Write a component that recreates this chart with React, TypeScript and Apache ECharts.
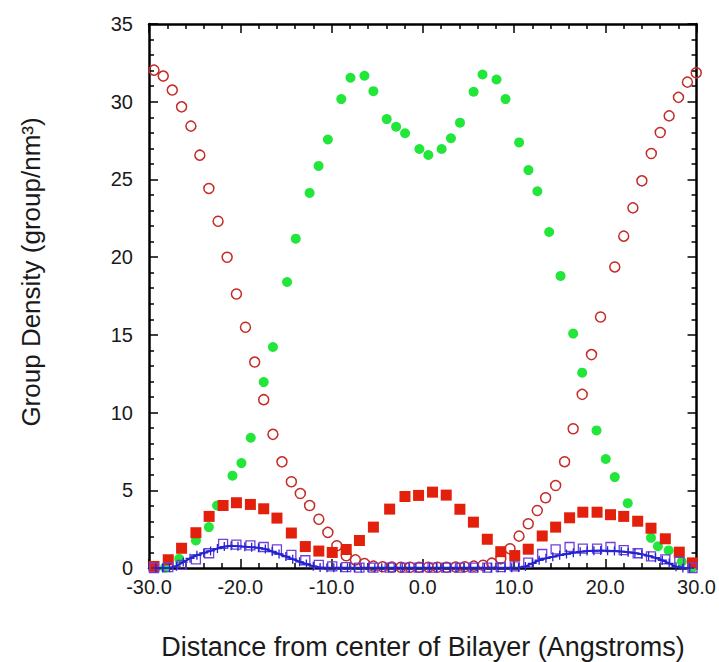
import React, { useEffect, useRef } from "react";
import * as echarts from "echarts";

// Filled green circles
const greenX = [-28.25, -26.69, -24.86, -23.44, -22.54, -20.85, -19.87, -18.85, -17.43, -16.42, -14.87, -13.92, -12.4, -11.42, -10.4, -8.93, -7.92, -6.39, -5.41, -3.95, -2.92, -1.94, -0.37, 0.61, 2.07, 3.09, 4.08, 5.57, 6.55, 8.08, 9.07, 10.56, 11.58, 12.56, 13.85, 15.1, 16.48, 17.47, 19.04, 20.05, 21.04, 22.46, 25.01, 25.77, 26.94, 28.39, 29.49];
const greenY = [0.02, 0.59, 1.77, 2.63, 4.02, 5.94, 6.75, 8.38, 11.96, 14.22, 18.4, 21.19, 24.13, 25.87, 27.57, 30.17, 31.54, 31.67, 30.68, 28.88, 28.39, 27.97, 26.96, 26.57, 26.96, 27.65, 28.65, 30.64, 31.75, 31.43, 30.17, 27.38, 25.6, 24.24, 21.62, 18.79, 15.08, 12.57, 8.85, 7.01, 5.85, 4.17, 1.94, 1.4, 1.13, 0.42, 0.01];

// Open red circles
const circleX = [-29.45, -28.44, -27.45, -26.43, -25.41, -24.43, -23.44, -22.43, -21.44, -20.42, -19.43, -18.42, -17.43, -16.42, -15.43, -14.4, -13.42, -12.4, -11.39, -10.4, -9.42, -8.39, -7.38, -6.39, -5.4, -4.4, -3.4, -2.4, -1.4, -0.4, 0.6, 1.6, 2.6, 3.6, 4.6, 5.6, 6.6, 7.56, 8.55, 9.56, 10.55, 11.56, 12.55, 13.46, 14.56, 15.54, 16.48, 17.47, 18.49, 19.48, 21.04, 22.02, 23.03, 24.01, 25.04, 26.02, 27.0, 28.02, 29.0, 29.97];
const circleY = [32.03, 31.65, 30.75, 29.67, 28.43, 26.56, 24.42, 22.31, 19.99, 17.63, 15.49, 13.25, 10.83, 8.6, 6.83, 5.55, 4.79, 4.02, 3.14, 2.29, 1.43, 0.79, 0.52, 0.29, 0.12, 0.08, 0.06, 0.05, 0.05, 0.05, 0.05, 0.05, 0.05, 0.06, 0.08, 0.12, 0.18, 0.31, 0.59, 1.24, 2.05, 2.85, 3.7, 4.52, 5.31, 6.84, 8.96, 11.17, 13.73, 16.15, 19.37, 21.35, 23.17, 24.91, 26.67, 28.02, 29.09, 30.28, 31.26, 31.86];

// Filled red squares and open purple squares share one grid
const squareX = [-29.45, -27.89, -26.43, -24.86, -23.41, -21.88, -20.42, -18.89, -17.43, -15.98, -14.4, -12.87, -11.39, -9.92, -8.39, -6.94, -5.41, -3.63, -1.95, -0.46, 1.07, 2.57, 4.07, 5.55, 7.07, 8.55, 10.08, 11.56, 13.09, 14.56, 16.09, 17.54, 19.1, 20.57, 22.02, 23.55, 25.01, 26.58, 28.11, 29.56];
const redSquareY = [0.1, 0.53, 1.27, 2.27, 3.32, 4.02, 4.2, 4.09, 3.81, 3.21, 2.25, 1.38, 1.09, 1.0, 1.19, 1.77, 2.63, 3.79, 4.6, 4.67, 4.88, 4.69, 3.78, 2.95, 1.85, 1.05, 0.8, 1.21, 2.06, 2.63, 3.23, 3.59, 3.59, 3.43, 3.32, 3.01, 2.56, 1.88, 1.02, 0.33];
const purpleSquareY = [0.0, 0.05, 0.2, 0.55, 0.95, 1.55, 1.5, 1.45, 1.35, 1.2, 0.85, 0.5, 0.2, 0.1, 0.05, 0.03, 0.03, 0.02, 0.03, 0.02, 0.03, 0.02, 0.03, 0.02, 0.03, 0.05, 0.1, 0.35, 0.9, 1.2, 1.35, 1.25, 1.25, 1.35, 1.15, 0.95, 0.75, 0.55, 0.4, 0.0];

// Blue line with cross markers
const blueX = [-29.25, -28.5, -27.75, -27, -26.25, -25.5, -24.75, -24, -23.25, -22.5, -21.75, -21, -20.25, -19.5, -18.75, -18, -17.25, -16.5, -15.75, -15, -14.25, -13.5, -12.75, -12, -11.25, -10.5, -9.75, -9, -8.25, -7.5, -6.75, -6, -5.25, -4.5, -3.75, -3, -2.25, -1.5, -0.75, 0, 0.75, 1.5, 2.25, 3, 3.75, 4.5, 5.25, 6, 6.75, 7.5, 8.25, 9, 9.75, 10.5, 11.25, 12, 12.75, 13.5, 14.25, 15, 15.75, 16.5, 17.25, 18, 18.75, 19.5, 20.25, 21, 21.75, 22.5, 23.25, 24, 24.75, 25.5, 26.25, 27, 27.75, 28.5, 29.25];
const blueY = [0, 0, 0.02, 0.12, 0.38, 0.62, 0.82, 0.97, 1.1, 1.25, 1.38, 1.43, 1.4, 1.37, 1.34, 1.3, 1.22, 1.06, 0.9, 0.74, 0.57, 0.4, 0.26, 0.12, 0.04, 0.02, 0.02, 0.01, 0.01, 0.02, 0.01, 0.01, 0.02, 0.01, 0.01, 0.02, 0.01, 0.01, 0.02, 0.01, 0.01, 0.02, 0.01, 0.01, 0.02, 0.01, 0.01, 0.02, 0.01, 0.01, 0.02, 0.01, 0.02, 0.03, 0.1, 0.3, 0.5, 0.62, 0.72, 0.82, 0.9, 0.98, 1.05, 1.09, 1.11, 1.12, 1.11, 1.09, 1.06, 1.02, 0.96, 0.88, 0.78, 0.66, 0.5, 0.3, 0.08, 0, 0];

const X_TITLE = "Distance from center of Bilayer (Angstroms)";
const Y_TITLE = "Group Density (group/nm³)";

const zip = (xs: number[], ys: number[]) => xs.map((x, i) => [x, ys[i]]);

const FONT = "'Liberation Sans', Arial, Helvetica, sans-serif";

export default function App() {
  const ref = useRef<HTMLDivElement>(null);

  useEffect(() => {
    if (!ref.current) return;
    const chart = echarts.init(ref.current, null, { renderer: "svg" });

    const line = { show: true, onZero: false, lineStyle: { color: "#000", width: 2.5 } };
    const tickLine = { color: "#000", width: 1.5 };

    const xAxisBase = {
      type: "value",
      min: -30,
      max: 30,
      interval: 10,
      axisLine: line,
      axisTick: { show: true, inside: true, length: 9, lineStyle: tickLine },
      minorTick: { show: true, splitNumber: 5, length: 5, lineStyle: tickLine },
      splitLine: { show: false },
      minorSplitLine: { show: false },
    };
    const yAxisBase = {
      type: "value",
      min: 0,
      max: 35,
      interval: 5,
      axisLine: line,
      axisTick: { show: true, inside: true, length: 9, lineStyle: tickLine },
      minorTick: { show: true, splitNumber: 5, length: 5, lineStyle: tickLine },
      splitLine: { show: false },
      minorSplitLine: { show: false },
    };

    chart.setOption({
      animation: false,
      backgroundColor: "#fff",
      grid: { left: 149, right: 21, top: 24, bottom: 94, containLabel: false },
      xAxis: [
        {
          ...xAxisBase,
          position: "bottom",
          axisLabel: {
            show: true,
            margin: 9,
            fontSize: 20,
            color: "#1a1a1a",
            fontFamily: FONT,
            formatter: (v: number) => v.toFixed(1),
          },
        },
        { ...xAxisBase, position: "top", axisLabel: { show: false } },
      ],
      yAxis: [
        {
          ...yAxisBase,
          position: "left",
          axisLabel: { show: true, margin: 16, fontSize: 20, color: "#1a1a1a", fontFamily: FONT },
        },
        { ...yAxisBase, position: "right", axisLabel: { show: false } },
      ],
      graphic: [
        {
          type: "text",
          x: 423,
          y: 647,
          style: {
            text: X_TITLE,
            fontSize: 27,
            fontFamily: FONT,
            fill: "#1a1a1a",
            textAlign: "center",
            textVerticalAlign: "middle",
          },
        },
        {
          type: "text",
          x: 31,
          y: 272,
          rotation: Math.PI / 2,
          style: {
            text: Y_TITLE,
            fontSize: 26,
            fontFamily: FONT,
            fill: "#1a1a1a",
            textAlign: "center",
            textVerticalAlign: "middle",
          },
        },
      ],
      series: [
        {
          type: "scatter",
          data: zip(greenX, greenY),
          symbol: "circle",
          symbolSize: 10,
          itemStyle: { color: "#22e63a", opacity: 1 },
          z: 2,
        },
        {
          type: "scatter",
          data: zip(circleX, circleY),
          symbol: "circle",
          symbolSize: 10,
          itemStyle: { color: "rgba(255,255,255,0)", borderColor: "#c42a26", borderWidth: 1.5, opacity: 1 },
          z: 3,
        },
        {
          type: "scatter",
          data: zip(squareX, redSquareY),
          symbol: "rect",
          symbolSize: 11,
          itemStyle: { color: "#e3200c", opacity: 1 },
          z: 4,
        },
        {
          type: "scatter",
          data: zip(squareX, purpleSquareY),
          symbol: "rect",
          symbolSize: 9,
          itemStyle: { color: "rgba(255,255,255,0)", borderColor: "#7040d8", borderWidth: 1.3, opacity: 1 },
          z: 5,
        },
        {
          type: "line",
          data: zip(blueX, blueY),
          symbol: "path://M0,5H10M5,0V10",
          symbolSize: 9,
          showSymbol: true,
          lineStyle: { color: "#1c1cc8", width: 2 },
          itemStyle: { color: "#2424d2", borderColor: "#2424d2", borderWidth: 1.3, opacity: 1 },
          z: 6,
        },
      ],
    });

    return () => chart.dispose();
  }, []);

  return (
    <div
      ref={ref}
      style={{ position: "absolute", left: 0, top: 0, width: 719, height: 662, background: "#fff" }}
    />
  );
}
